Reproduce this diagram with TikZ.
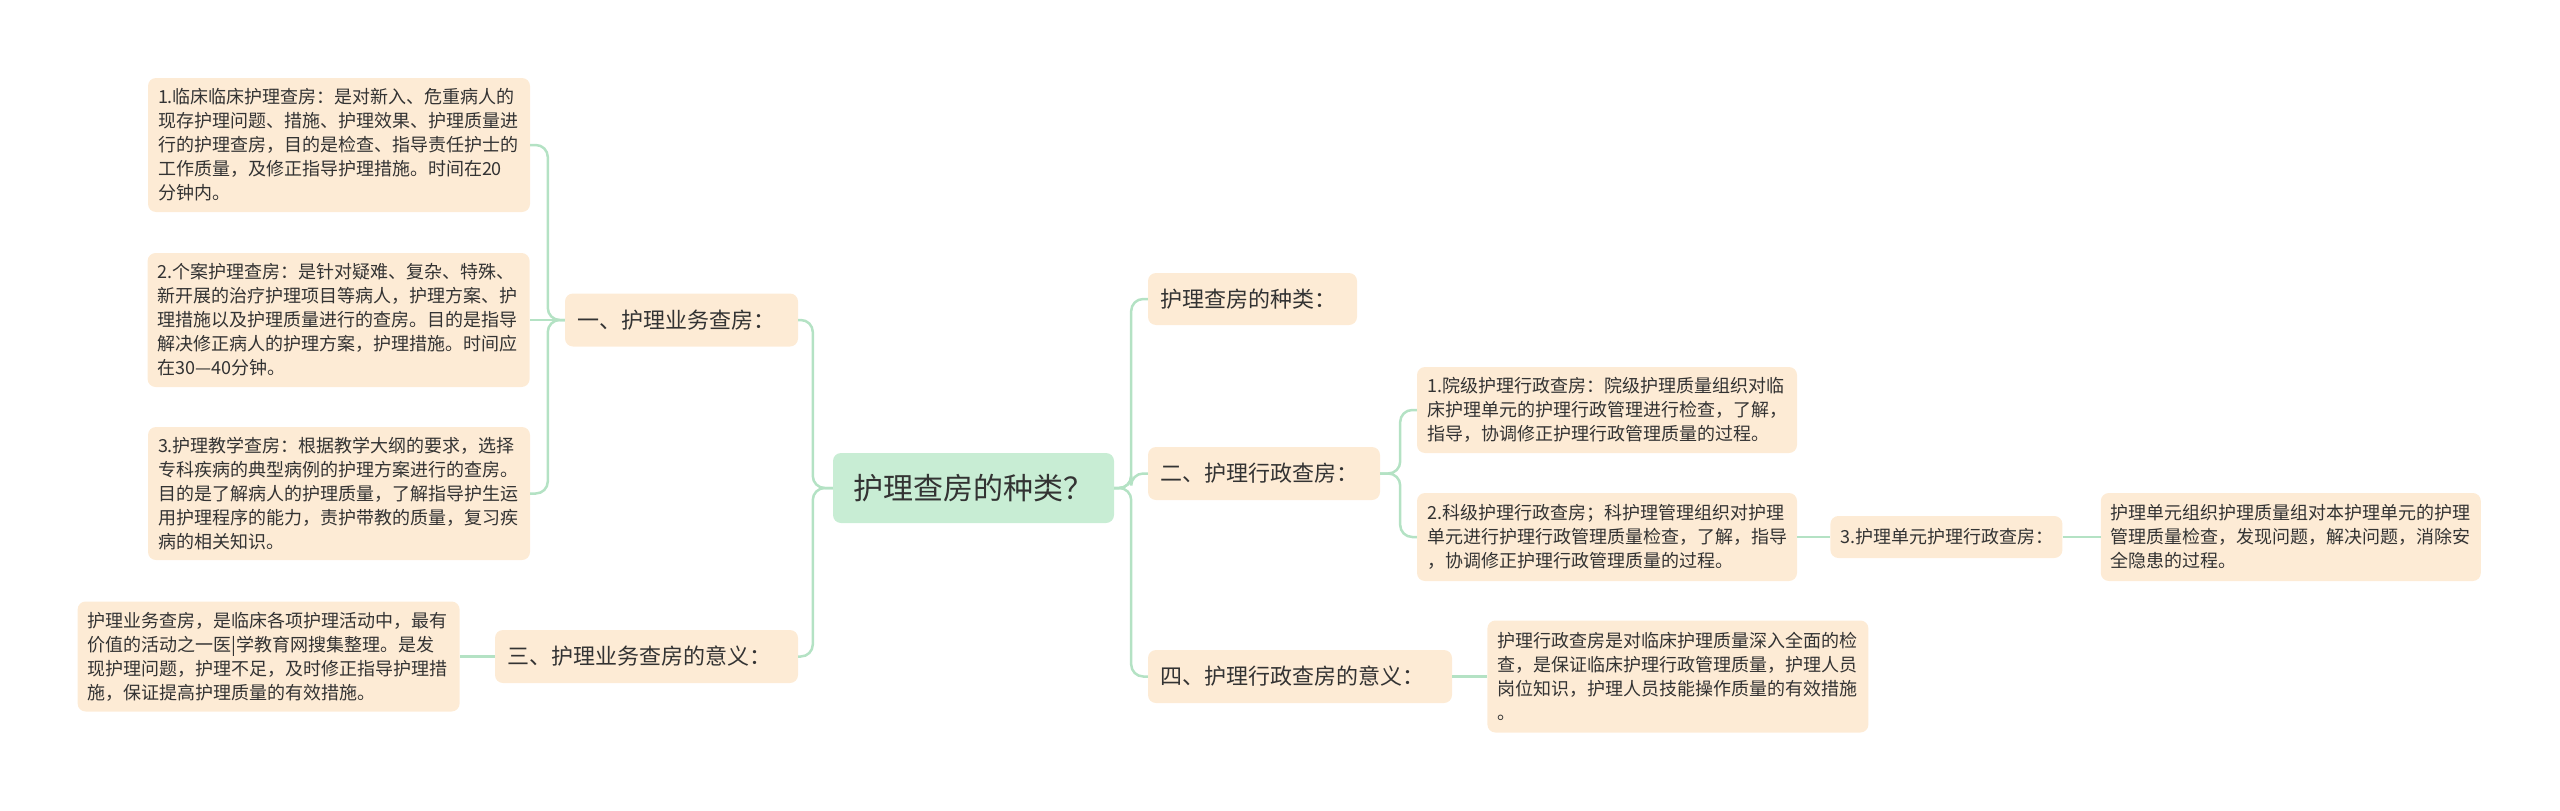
\documentclass[tikz,border=0pt]{standalone}
\usepackage{fontspec}
\setmainfont{Noto Sans CJK SC}
\usetikzlibrary{positioning}

\definecolor{peach}{HTML}{FDEBD5}
\definecolor{mint}{HTML}{C8EDD4}
\definecolor{linkgreen}{HTML}{B4E2C4}
\definecolor{ink}{HTML}{333333}

\begin{document}
\begin{tikzpicture}[
    x=1pt, y=-1pt,
    topic/.style={
        rectangle, rounded corners=8pt,
        fill=mint, text=ink,
        minimum width=281pt, minimum height=70pt,
        font=\fontsize{30}{36}\selectfont
    },
    branch/.style={
        rectangle, rounded corners=8pt,
        fill=peach, text=ink,
        minimum height=53pt, inner xsep=12pt, align=left,
        font=\fontsize{22}{26}\selectfont
    },
    leaf/.style={
        rectangle, rounded corners=8pt,
        fill=peach, text=ink,
        text width=362pt, inner xsep=10pt, inner ysep=0pt, align=left,
        font=\fontsize{18}{24}\selectfont
    },
    link/.style={
        draw=linkgreen, line width=2.5pt, rounded corners=12pt
    }
]
\useasboundingbox (0,0) rectangle (2560,811);

% Center: main topic
\node[topic] (root) at (973.5,488) {护理查房的种类？};

% Left branches
\node[branch, text width=209pt] (biz) at (681.5,320) {一、护理业务查房：};
\node[branch, text width=279pt] (bizmean) at (646.5,656.5) {三、护理业务查房的意义：};

\node[leaf, minimum height=134pt] (biz1) at (339,145) {1.临床临床护理查房：是对新入、危重病人的\\现存护理问题、措施、护理效果、护理质量进\\行的护理查房，目的是检查、指导责任护士的\\工作质量，及修正指导护理措施。时间在20\\分钟内。};
\node[leaf, minimum height=134pt, left=35pt of biz] (biz2) {2.个案护理查房：是针对疑难、复杂、特殊、\\新开展的治疗护理项目等病人，护理方案、护\\理措施以及护理质量进行的查房。目的是指导\\解决修正病人的护理方案，护理措施。时间应\\在30—40分钟。};
\node[leaf, minimum height=133pt] (biz3) at (339,493.5) {3.护理教学查房：根据教学大纲的要求，选择\\专科疾病的典型病例的护理方案进行的查房。\\目的是了解病人的护理质量，了解指导护生运\\用护理程序的能力，责护带教的质量，复习疾\\病的相关知识。};
\node[leaf, minimum height=110pt, left=35pt of bizmean] (bizmeantext) {护理业务查房，是临床各项护理活动中，最有\\价值的活动之一医|学教育网搜集整理。是发\\现护理问题，护理不足，及时修正指导护理措\\施，保证提高护理质量的有效措施。};

% Right branches
\node[branch, text width=185pt, minimum height=52pt] (kinds) at (1252.5,299) {护理查房的种类：};
\node[branch, text width=208pt] (admin) at (1264,473.5) {二、护理行政查房：};
\node[branch, text width=280pt] (adminmean) at (1300,676.5) {四、护理行政查房的意义：};

\node[leaf, text width=360pt, minimum height=86pt] (admin1) at (1607,410) {1.院级护理行政查房：院级护理质量组织对临\\床护理单元的护理行政管理进行检查，了解，\\指导，协调修正护理行政管理质量的过程。};
\node[leaf, text width=360pt, minimum height=88pt] (admin2) at (1607,537) {2.科级护理行政查房；科护理管理组织对护理\\单元进行护理行政管理质量检查，了解，指导\\，协调修正护理行政管理质量的过程。};
\node[branch, inner xsep=10pt, text width=212pt, minimum height=42pt, font=\fontsize{18}{24}\selectfont, right=33pt of admin2] (admin3) {3.护理单元护理行政查房：};
\node[leaf, text width=360pt, minimum height=88pt, right=38pt of admin3] (admin3text) {护理单元组织护理质量组对本护理单元的护理\\管理质量检查，发现问题，解决问题，消除安\\全隐患的过程。};
\node[leaf, text width=361pt, minimum height=112pt, right=35pt of adminmean] (adminmeantext) {护理行政查房是对临床护理质量深入全面的检\\查，是保证临床护理行政管理质量，护理人员\\岗位知识，护理人员技能操作质量的有效措施\\。};

% Connectors from the main topic
\draw[link] (root.east) -- ++(17,0) |- (kinds.west);
\draw[link] (root.east) -- ++(17,0) |- (admin.west);
\draw[link] (root.east) -- ++(17,0) |- (adminmean.west);
\draw[link] (root.west) -- ++(-20,0) |- (biz.east);
\draw[link] (root.west) -- ++(-20,0) |- (bizmean.east);

% Connectors to the details
\draw[link] (biz.west) -- ++(-17,0) |- (biz1.east);
\draw[link] (biz.west) -- (biz2.east);
\draw[link] (biz.west) -- ++(-17,0) |- (biz3.east);
\draw[link] (bizmean.west) -- (bizmeantext.east);
\draw[link] (admin.east) -- ++(20,0) |- (admin1.west);
\draw[link] (admin.east) -- ++(20,0) |- (admin2.west);
\draw[link] (admin2.east) -- (admin3.west);
\draw[link] (admin3.east) -- (admin3text.west);
\draw[link] (adminmean.east) -- (adminmeantext.west);

\end{tikzpicture}
\end{document}
